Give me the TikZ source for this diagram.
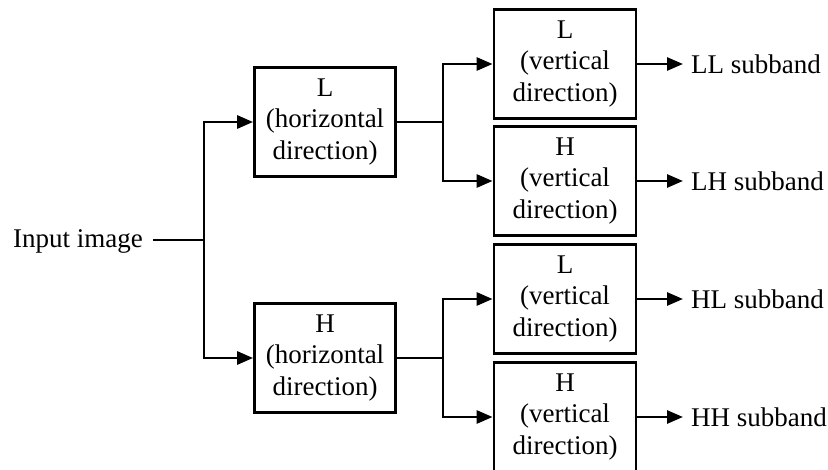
\documentclass[tikz,border=0pt]{standalone}
\usepackage{fontspec}
\setmainfont{Liberation Serif}
\usetikzlibrary{arrows.meta}

\begin{document}
\begin{tikzpicture}[x=1pt, y=-1pt,
  every node/.style={font=\fontsize{27}{31.5}\selectfont},
  filterbox/.style={draw, line width=2.8pt, rectangle, align=center,
    minimum width=141pt, minimum height=109pt, inner sep=0pt},
  outlabel/.style={anchor=west, inner xsep=8pt, inner ysep=0pt},
  wire/.style={line width=2.8pt},
  feed/.style={line width=2.8pt, -{Triangle[length=16pt, width=13pt]}}
]
\useasboundingbox (0,0) rectangle (828,470);

% input
\node[anchor=base east, inner sep=0pt] (in) at (143,248) {Input image};
\coordinate (split1) at (204,240);
\coordinate (inend) at ([xshift=10pt]in.base east);

% first stage: horizontal filters
\node[filterbox] (hL) at (325,122) {L\\(horizontal\\direction)};
\node[filterbox] (hH) at (325,358) {H\\(horizontal\\direction)};

% second stage: vertical filters
\node[filterbox, minimum width=142pt] (vLL) at (565,64)  {L\\(vertical\\direction)};
\node[filterbox, minimum width=142pt] (vLH) at (565,181) {H\\(vertical\\direction)};
\node[filterbox, minimum width=142pt] (vHL) at (565,299) {L\\(vertical\\direction)};
\node[filterbox, minimum width=142pt] (vHH) at (565,417) {H\\(vertical\\direction)};

% branch points of the second stage
\coordinate (split2) at (443,122);
\coordinate (split3) at (443,358);

% outputs
\node[outlabel] (oLL) at (683,64)  {LL subband};
\node[outlabel] (oLH) at (683,181) {LH subband};
\node[outlabel] (oHL) at (683,299) {HL subband};
\node[outlabel] (oHH) at (683,417) {HH subband};

% connections
\draw[wire] (inend |- split1) -- (split1);
\draw[feed] (split1) |- (hL.west);
\draw[feed] (split1) |- (hH.west);

\draw[wire] (hL.east) -- (split2);
\draw[feed] (split2) |- (vLL.west);
\draw[feed] (split2) |- (vLH.west);

\draw[wire] (hH.east) -- (split3);
\draw[feed] (split3) |- (vHL.west);
\draw[feed] (split3) |- (vHH.west);

\draw[feed] (vLL.east) -- (oLL.west);
\draw[feed] (vLH.east) -- (oLH.west);
\draw[feed] (vHL.east) -- (oHL.west);
\draw[feed] (vHH.east) -- (oHH.west);
\end{tikzpicture}
\end{document}
